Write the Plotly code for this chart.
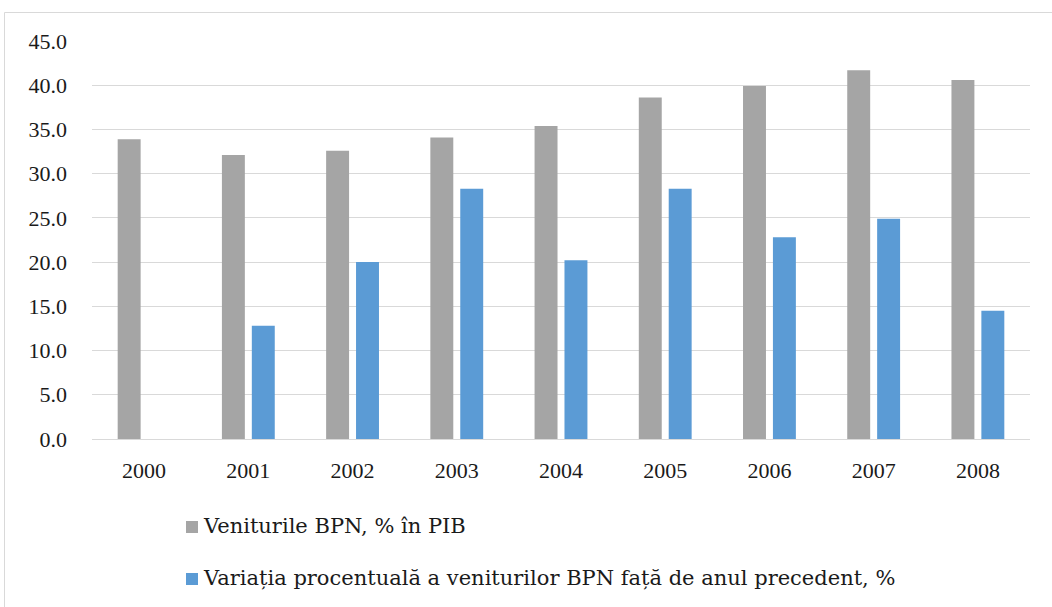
import plotly.graph_objects as go

years = ["2000", "2001", "2002", "2003", "2004", "2005", "2006", "2007", "2008"]
venituri_pib = [33.9, 32.1, 32.6, 34.1, 35.4, 38.6, 39.9, 41.7, 40.6]
variatie = [None, 12.8, 20.0, 28.3, 20.2, 28.3, 22.8, 24.9, 14.5]
y_ticks = [0, 5, 10, 15, 20, 25, 30, 35, 40, 45]

series_names = [
    "Veniturile BPN, % în PIB",
    "Variația procentuală a veniturilor BPN față de anul precedent, %",
]
grey = "#a5a5a5"
blue = "#5b9bd5"
tick_font = "Liberation Serif"
legend_font = "DejaVu Serif"

fig = go.Figure()
fig.add_trace(go.Bar(x=years, y=venituri_pib, name=series_names[0],
                     marker=dict(color=grey, line=dict(width=0)), showlegend=False))
fig.add_trace(go.Bar(x=years, y=variatie, name=series_names[1],
                     marker=dict(color=blue, line=dict(width=0)), showlegend=False))

# legend drawn as swatches + labels below the plot
for i, (name, col) in enumerate(zip(series_names, [grey, blue])):
    yc = 526 + 52 * i
    fig.add_shape(type="rect", xref="paper", yref="paper",
                  x0=(186 - 92) / 938, x1=(198 - 92) / 938,
                  y0=(439 - (yc + 7)) / 398, y1=(439 - (yc - 5)) / 398,
                  fillcolor=col, line=dict(width=0))
    fig.add_annotation(text=name, xref="paper", yref="paper",
                       x=(201 - 92) / 938, y=(439 - yc) / 398,
                       xanchor="left", yanchor="middle", showarrow=False,
                       font=dict(family=legend_font, size=21, color="#1a1a1a"))

# outer chart border
fig.add_shape(type="rect", xref="paper", yref="paper",
              x0=(4.5 - 92) / 938, x1=(1060 - 92) / 938,
              y0=(439 - 620) / 398, y1=(439 - 12.5) / 398,
              line=dict(color="#d9d9d9", width=1), fillcolor="rgba(0,0,0,0)")

fig.update_layout(
    width=1052, height=607,
    margin=dict(l=92, r=22, t=41, b=168),
    paper_bgcolor="white", plot_bgcolor="white",
    barmode="group", bargap=0.426, bargroupgap=0.233,
    font=dict(family=tick_font, size=22, color="#1a1a1a"),
    showlegend=False,
)
fig.update_xaxes(showgrid=False, showline=True, linecolor="#d9d9d9", linewidth=1,
                 ticks="", tickfont=dict(family=tick_font, size=22),
                 ticklabelstandoff=12)
fig.update_yaxes(range=[0, 45], tickvals=y_ticks,
                 ticktext=[f"{v:.1f}" for v in y_ticks],
                 showgrid=True, gridcolor="#d9d9d9", gridwidth=1,
                 zeroline=False, ticks="", tickfont=dict(family=tick_font, size=22),
                 ticklabelstandoff=24)

fig.write_html("out.html")
